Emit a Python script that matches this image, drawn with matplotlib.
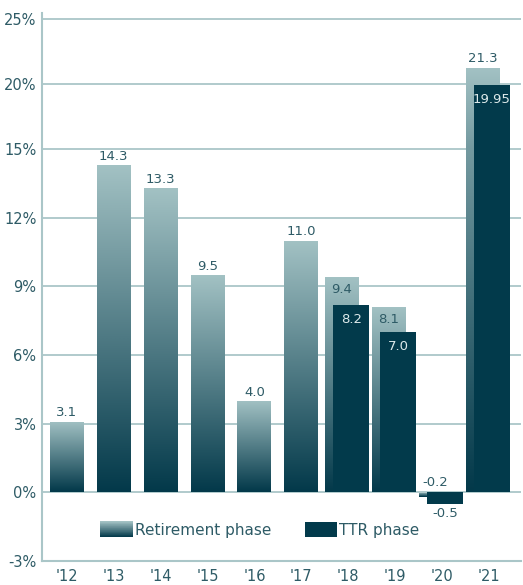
import matplotlib
matplotlib.use("Agg")
import matplotlib.pyplot as plt
import numpy as np
from matplotlib.colors import LinearSegmentedColormap
from matplotlib.patches import Rectangle, Patch
from matplotlib.legend_handler import HandlerBase

years = ["'12", "'13", "'14", "'15", "'16", "'17", "'18", "'19", "'20", "'21"]
retirement = [3.1, 14.3, 13.3, 9.5, 4.0, 11.0, 9.4, 8.1, -0.2, 21.3]
ttr = [np.nan] * 6 + [8.2, 7.0, -0.5, 19.95]
ytick_vals = [-3, 0, 3, 6, 9, 12, 15, 20, 25]

light = "#a3c2c4"
dark = "#03394a"
ttr_color = "#023a4b"
grid_c = "#aac6c8"
text_c = "#2e5b66"
grad = LinearSegmentedColormap.from_list("ret", [light, dark])

# axis is compressed above 15%
K = 0.565


def fwd(v):
    v = np.asarray(v, dtype=float)
    return np.where(v <= 15, v, 15 + (v - 15) * K)


def inv(p):
    p = np.asarray(p, dtype=float)
    return np.where(p <= 15, p, 15 + (p - 15) / K)


def fmt(v):
    return f"{v:.1f}" if abs(round(v, 1) - v) < 1e-9 else f"{v:.2f}"


class GradHandler(HandlerBase):
    def legend_artist(self, legend, orig_handle, fontsize, handlebox):
        x0, y0 = -handlebox.xdescent, -handlebox.ydescent
        w, h = handlebox.width, handlebox.height
        n = 40
        first = None
        for k in range(n):
            r = Rectangle((x0, y0 + h - (k + 1) * h / n), w, h / n + 0.3,
                          facecolor=grad(k / (n - 1)), edgecolor="none",
                          transform=handlebox.get_transform())
            handlebox.add_artist(r)
            first = first or r
        return first


fig = plt.figure(figsize=(5.23, 5.85), dpi=100)
ax = fig.add_axes([42 / 523, 24 / 585, (521 - 42) / 523, (561 - 13) / 585])
ax.set_yscale("function", functions=(fwd, inv))

x = np.arange(len(years))
paired = ~np.isnan(np.array(ttr))
w_single = 0.725
w_ttr = 0.77
off_ret = -0.14
off_ttr = 0.06

gvals = np.linspace(0, 1, 256).reshape(-1, 1)
for i, v in enumerate(retirement):
    cx = x[i] + (off_ret if paired[i] else 0)
    lo, hi = min(0, v), max(0, v)
    ax.imshow(gvals, cmap=grad, aspect="auto", origin="upper",
              extent=(cx - w_single / 2, cx + w_single / 2, lo, hi),
              zorder=2, interpolation="bilinear")
    if v < 0:
        ax.annotate(fmt(v), (cx, 0), xytext=(0, 3), textcoords="offset pixels",
                    ha="center", va="bottom", fontsize=9.5, color=text_c, zorder=5)
    elif paired[i] and v < 15:
        ax.annotate(fmt(v), (cx, v), xytext=(0, -6), textcoords="offset pixels",
                    ha="center", va="top", fontsize=9.5, color=text_c, zorder=5)
    else:
        ax.annotate(fmt(v), (cx, v), xytext=(0, 2), textcoords="offset pixels",
                    ha="center", va="bottom", fontsize=9.5, color=text_c, zorder=5)

for i, v in enumerate(ttr):
    if np.isnan(v):
        continue
    cx = x[i] + off_ttr
    ax.bar(cx, v, width=w_ttr, color=ttr_color, zorder=3)
    if v < 0:
        ax.annotate(fmt(v), (cx, v), xytext=(0, -3), textcoords="offset pixels",
                    ha="center", va="top", fontsize=9.5, color=text_c, zorder=5)
    else:
        ax.annotate(fmt(v), (cx, v), xytext=(0, -8), textcoords="offset pixels",
                    ha="center", va="top", fontsize=9.5, color="#dce9ea", zorder=5)

ax.set_xlim(-0.529, 9.68)
ax.set_ylim(-3, 25.5)
ax.set_yticks(ytick_vals)
ax.set_yticklabels([f"{t}%" for t in ytick_vals])
ax.set_xticks(x)
ax.set_xticklabels(years)
ax.tick_params(length=0, colors=text_c, labelsize=10.5)
ax.tick_params(axis="y", pad=4)
ax.tick_params(axis="x", pad=6)

ax.set_axisbelow(True)
ax.grid(axis="y", color=grid_c, linewidth=1.3)
for s in ["top", "right"]:
    ax.spines[s].set_visible(False)
for s in ["left", "bottom"]:
    ax.spines[s].set_color(grid_c)
    ax.spines[s].set_linewidth(1.5)

h_ret = Patch(label="Retirement phase")
h_ttr = Patch(facecolor=ttr_color, edgecolor="none", label="TTR phase")
leg = ax.legend([h_ret, h_ttr], ["Retirement phase", "TTR phase"],
                handler_map={h_ret: GradHandler()},
                loc="center", bbox_to_anchor=(0.455, 0.057), ncol=2, frameon=False,
                fontsize=11, handlelength=2.1, handleheight=1.2, handletextpad=0.15,
                columnspacing=2.2)
for t in leg.get_texts():
    t.set_color(text_c)

fig.savefig("out.png", dpi=100)
